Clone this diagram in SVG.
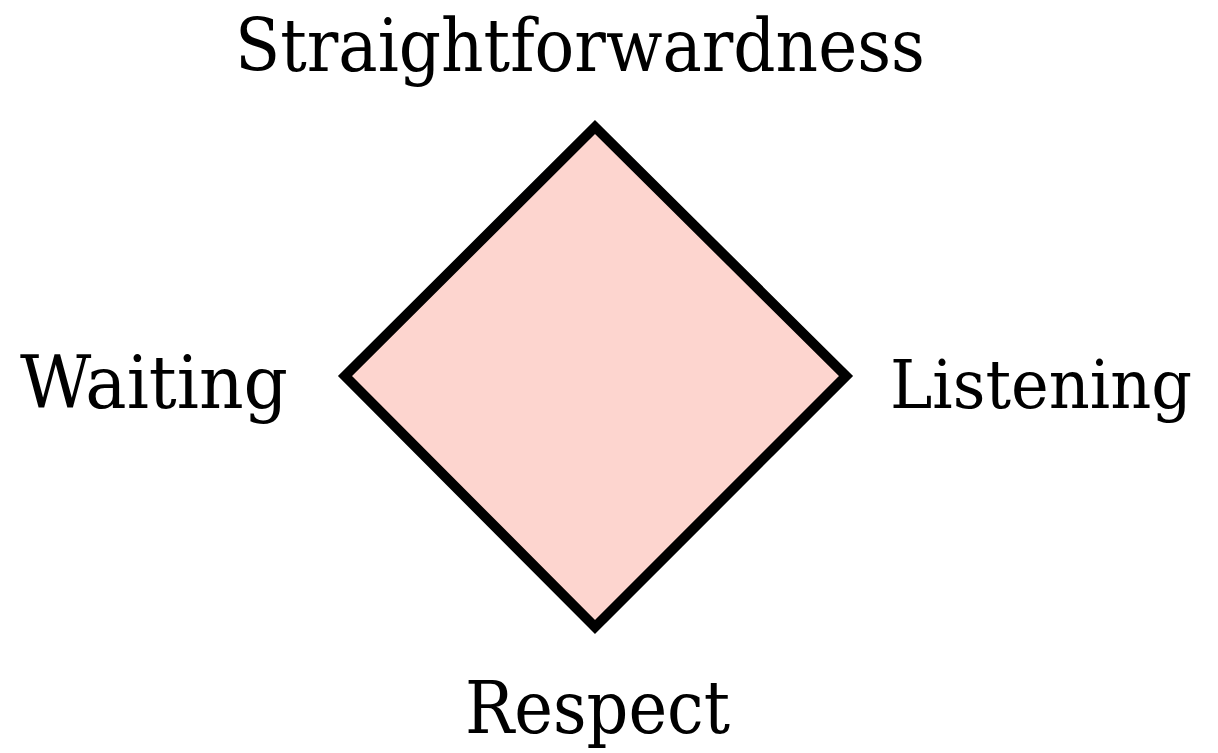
<svg xmlns="http://www.w3.org/2000/svg" width="1218" height="753" viewBox="0 0 1218 753">
<style>
.lbl{font-family:"DejaVu Serif","Liberation Serif",serif;font-size:72px;fill:#000}
</style>
<rect width="1218" height="753" fill="#fff"/>
<g id="diamond">
<polygon points="595,127 846,376 595,627 345,376" fill="#fdd5cf" stroke="#000" stroke-width="10"/>
</g>
<g id="connectors"></g>
<g id="top"><text class="lbl" x="235" y="71" textLength="690" lengthAdjust="spacingAndGlyphs">Straightforwardness</text></g>
<g id="left"><text class="lbl" x="20" y="408" textLength="268" lengthAdjust="spacingAndGlyphs">Waiting</text></g>
<g id="right"><text class="lbl" x="890" y="408" style="font-size:68px" textLength="302" lengthAdjust="spacingAndGlyphs">Listening</text></g>
<g id="bottom"><text class="lbl" x="465" y="733" textLength="265" lengthAdjust="spacingAndGlyphs">Respect</text></g>
</svg>
